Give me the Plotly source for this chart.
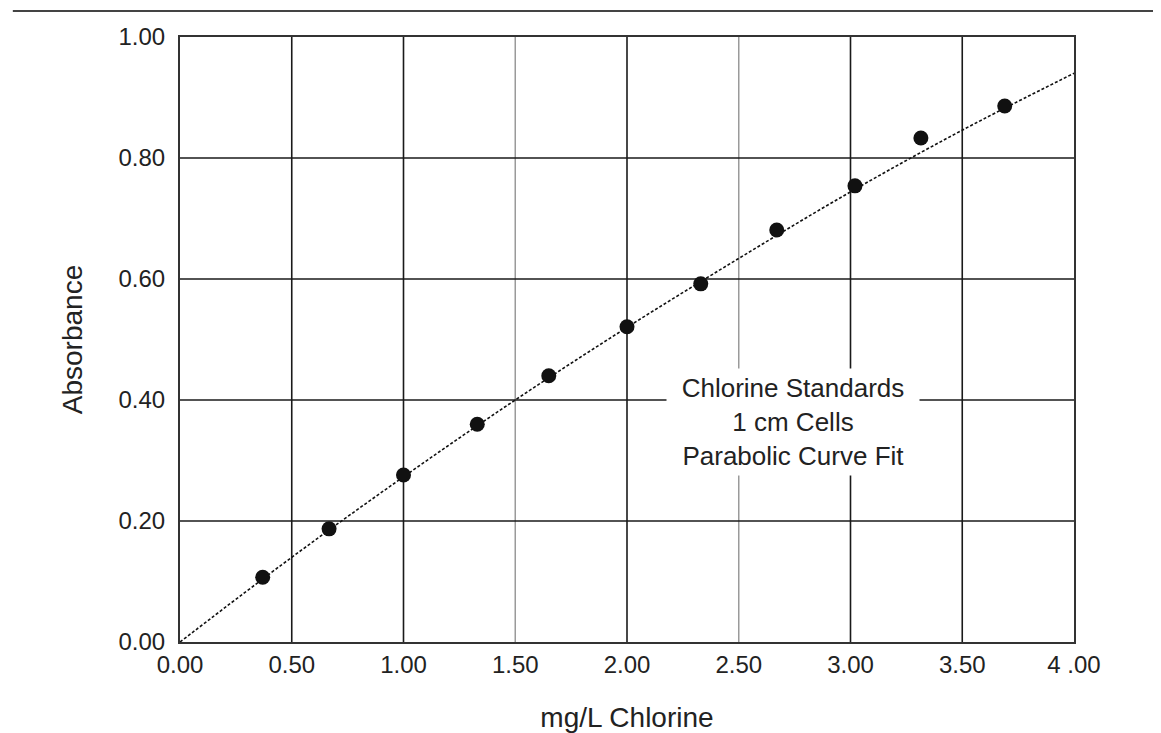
import plotly.graph_objects as go

# Data
conc = [0.37, 0.667, 1.0, 1.33, 1.65, 2.0, 2.33, 2.67, 3.02, 3.315, 3.69]
absorb = [0.107, 0.187, 0.276, 0.360, 0.440, 0.521, 0.592, 0.681, 0.754, 0.833, 0.886]

fit_x = [0.0, 0.5, 1.0, 1.5, 2.0, 2.5, 3.0, 3.5, 4.0]
fit_y = [0.0, 0.14, 0.273, 0.40, 0.52, 0.634, 0.744, 0.846, 0.94]

x_ticks = [0, 0.5, 1.0, 1.5, 2.0, 2.5, 3.0, 3.5, 4.0]
x_ticktext = ["0.00", "0.50", "1.00", "1.50", "2.00", "2.50", "3.00", "3.50", "4 .00"]
y_ticks = [0, 0.2, 0.4, 0.6, 0.8, 1.0]
y_ticktext = ["0.00", "0.20", "0.40", "0.60", "0.80", "1.00"]

dark_grid_x = [0.5, 1.0, 2.0, 3.0, 3.5]
light_grid_x = [1.5, 2.5]
grid_y = [0.2, 0.4, 0.6, 0.8]

font = "Liberation Sans, Arial, sans-serif"

fig = go.Figure()

for gx in light_grid_x:
    fig.add_shape(type="line", x0=gx, x1=gx, y0=0, y1=1, xref="x", yref="y",
                  line=dict(color="#9a9a9a", width=1.5), layer="below")
for gx in dark_grid_x:
    fig.add_shape(type="line", x0=gx, x1=gx, y0=0, y1=1, xref="x", yref="y",
                  line=dict(color="#1a1a1a", width=1.6), layer="below")
for gy in grid_y:
    fig.add_shape(type="line", x0=0, x1=4, y0=gy, y1=gy, xref="x", yref="y",
                  line=dict(color="#1a1a1a", width=1.4), layer="below")

fig.add_trace(go.Scatter(x=fit_x, y=fit_y, mode="lines",
                         line=dict(color="#111", width=1.6, dash="3px,2px", shape="spline"),
                         hoverinfo="skip", showlegend=False))
fig.add_trace(go.Scatter(x=conc, y=absorb, mode="markers",
                         marker=dict(color="#111", size=15), showlegend=False))

fig.add_annotation(x=2.743, y=0.364, xref="x", yref="y",
                   text="Chlorine Standards<br>1 cm Cells<br>Parabolic Curve Fit",
                   showarrow=False, bgcolor="white", borderpad=4, width=244,
                   font=dict(family=font, size=26, color="#222"))

# top rule across the page
fig.add_shape(type="line", xref="paper", yref="paper", x0=-0.187, x1=1.1, y0=1.043, y1=1.043,
              line=dict(color="#444", width=2))

fig.update_layout(
    width=1161, height=733,
    margin=dict(l=172, r=95, t=29, b=99),
    paper_bgcolor="white", plot_bgcolor="white",
    font=dict(family=font, color="#222"),
    showlegend=False,
)
fig.update_xaxes(range=[0, 4], tickvals=x_ticks, ticktext=x_ticktext, showgrid=False,
                 zeroline=False, showline=True, mirror=True, linecolor="#333", linewidth=2,
                 ticks="", tickfont=dict(size=24, color="#222"),
                 title=dict(text="mg/L Chlorine", font=dict(size=28, color="#222"), standoff=31))
fig.update_yaxes(range=[0, 1], tickvals=y_ticks, ticktext=y_ticktext, showgrid=False,
                 zeroline=False, showline=True, mirror=True, linecolor="#333", linewidth=2,
                 ticks="", tickfont=dict(size=24, color="#222"), ticklabelstandoff=8,
                 title=dict(text="Absorbance", font=dict(size=28, color="#222"), standoff=28))

fig.write_html("out.html")
